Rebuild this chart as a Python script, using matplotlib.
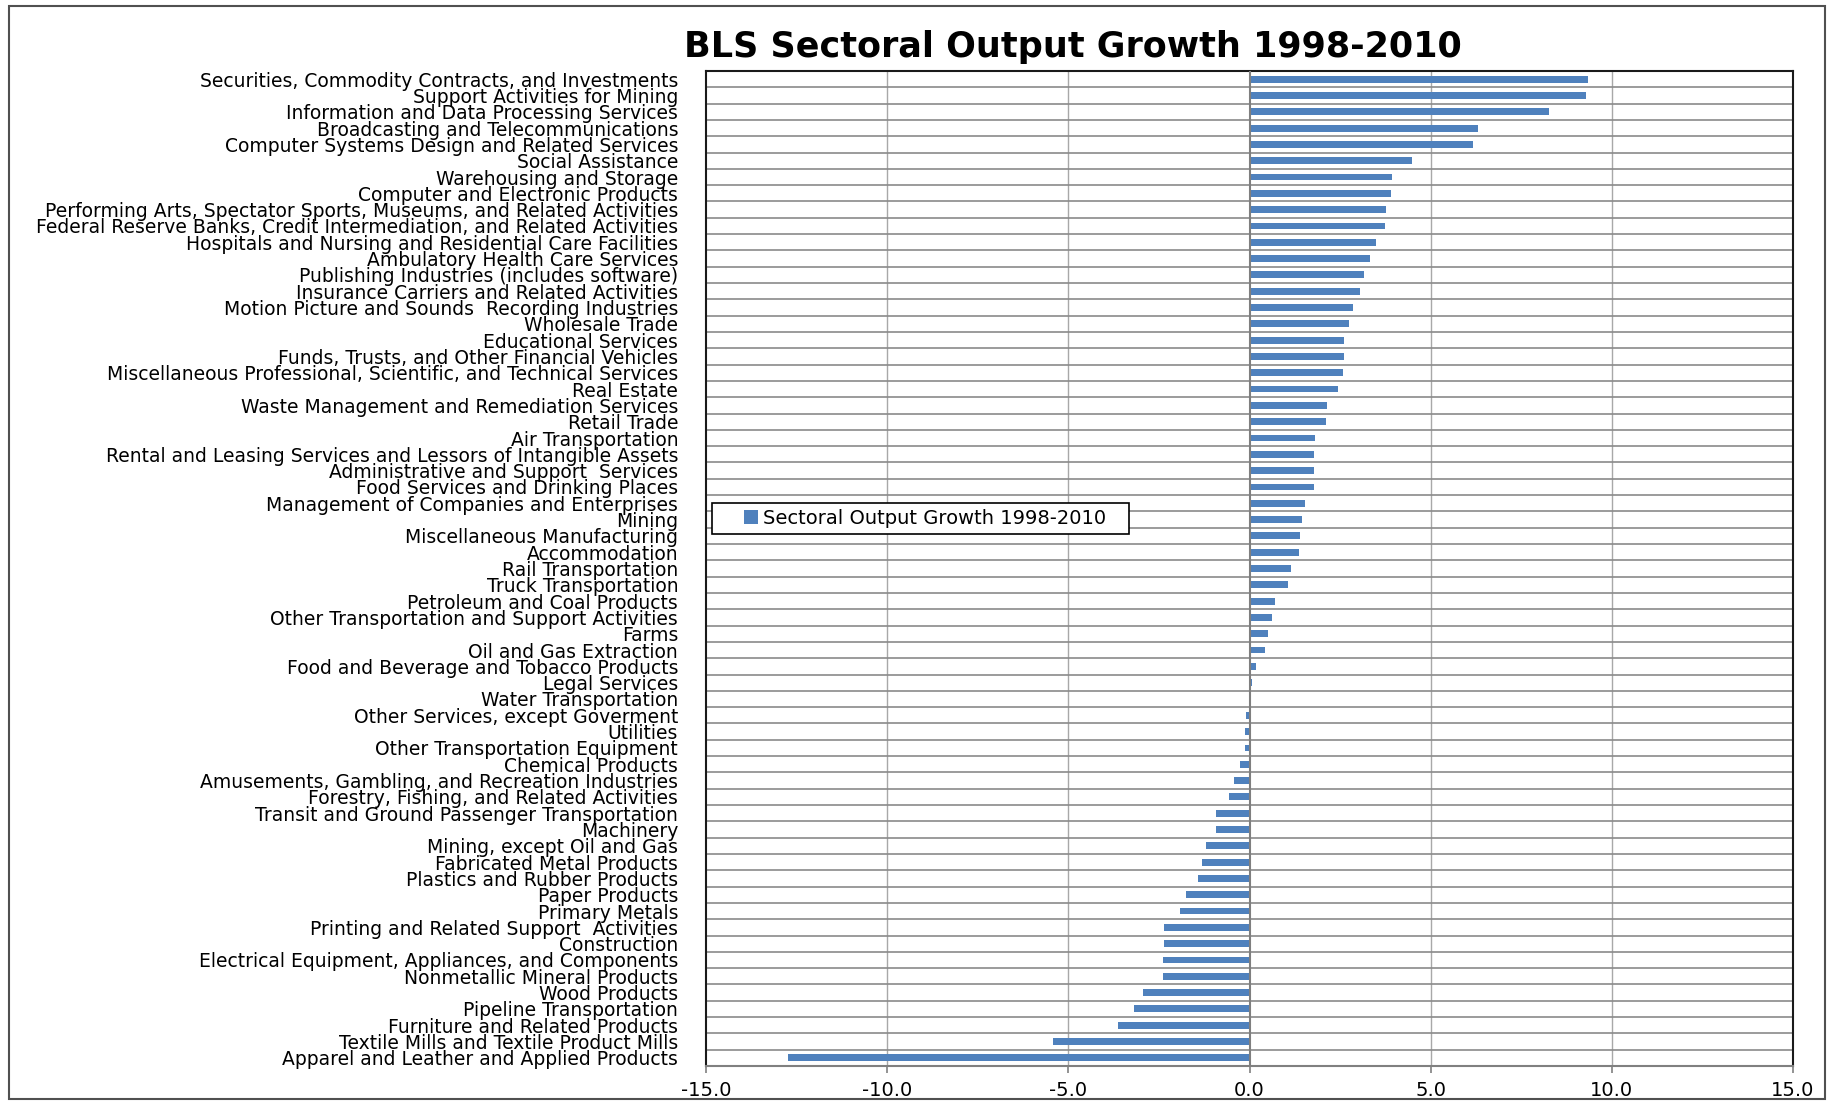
import matplotlib
matplotlib.use("Agg")
import matplotlib.pyplot as plt
from matplotlib.patches import Rectangle
from matplotlib.container import BarContainer
from matplotlib.legend_handler import HandlerPatch, update_from_first_child
import numpy as np

categories = [
    "Securities, Commodity Contracts, and Investments",
    "Support Activities for Mining",
    "Information and Data Processing Services",
    "Broadcasting and Telecommunications",
    "Computer Systems Design and Related Services",
    "Social Assistance",
    "Warehousing and Storage",
    "Computer and Electronic Products",
    "Performing Arts, Spectator Sports, Museums, and Related Activities",
    "Federal Reserve Banks, Credit Intermediation, and Related Activities",
    "Hospitals and Nursing and Residential Care Facilities",
    "Ambulatory Health Care Services",
    "Publishing Industries (includes software)",
    "Insurance Carriers and Related Activities",
    "Motion Picture and Sounds  Recording Industries",
    "Wholesale Trade",
    "Educational Services",
    "Funds, Trusts, and Other Financial Vehicles",
    "Miscellaneous Professional, Scientific, and Technical Services",
    "Real Estate",
    "Waste Management and Remediation Services",
    "Retail Trade",
    "Air Transportation",
    "Rental and Leasing Services and Lessors of Intangible Assets",
    "Administrative and Support  Services",
    "Food Services and Drinking Places",
    "Management of Companies and Enterprises",
    "Mining",
    "Miscellaneous Manufacturing",
    "Accommodation",
    "Rail Transportation",
    "Truck Transportation",
    "Petroleum and Coal Products",
    "Other Transportation and Support Activities",
    "Farms",
    "Oil and Gas Extraction",
    "Food and Beverage and Tobacco Products",
    "Legal Services",
    "Water Transportation",
    "Other Services, except Goverment",
    "Utilities",
    "Other Transportation Equipment",
    "Chemical Products",
    "Amusements, Gambling, and Recreation Industries",
    "Forestry, Fishing, and Related Activities",
    "Transit and Ground Passenger Transportation",
    "Machinery",
    "Mining, except Oil and Gas",
    "Fabricated Metal Products",
    "Plastics and Rubber Products",
    "Paper Products",
    "Primary Metals",
    "Printing and Related Support  Activities",
    "Construction",
    "Electrical Equipment, Appliances, and Components",
    "Nonmetallic Mineral Products",
    "Wood Products",
    "Pipeline Transportation",
    "Furniture and Related Products",
    "Textile Mills and Textile Product Mills",
    "Apparel and Leather and Applied Products",
]

values = [
    9.35, 9.28, 8.27, 6.31, 6.16, 4.48, 3.93, 3.90, 3.77, 3.73,
    3.48, 3.32, 3.16, 3.06, 2.87, 2.74, 2.62, 2.62, 2.58, 2.45,
    2.15, 2.12, 1.81, 1.77, 1.78, 1.78, 1.52, 1.45, 1.39, 1.36,
    1.15, 1.06, 0.70, 0.62, 0.52, 0.44, 0.19, 0.06, 0.0, -0.09,
    -0.12, -0.12, -0.26, -0.44, -0.56, -0.92, -0.92, -1.19, -1.31, -1.43,
    -1.76, -1.93, -2.37, -2.37, -2.40, -2.40, -2.93, -3.18, -3.64, -5.43,
    -12.73,
]

x_ticks = [-15.0, -10.0, -5.0, 0.0, 5.0, 10.0, 15.0]
x_tick_labels = ["-15.0", "-10.0", "-5.0", "0.0", "5.0", "10.0", "15.0"]

title = "BLS Sectoral Output Growth 1998-2010"
series_name = "Sectoral Output Growth 1998-2010"

BAR_COLOR = '#4F81BD'
plt.rcParams['font.family'] = ['DejaVu Sans']

W, H = 1834, 1104
fig = plt.figure(figsize=(W / 100, H / 100), dpi=100)

# outer chart border
fig.patches.append(Rectangle((9 / W, 1 - 1099 / H), (1825 - 9) / W, (1099 - 6) / H,
                             transform=fig.transFigure, fill=False,
                             edgecolor='#505050', linewidth=1.5))

ax = fig.add_axes([706 / W, 1 - 1066 / H, (1793 - 706) / W, (1066 - 71) / H])

y = np.arange(len(categories))
bars = ax.barh(y, values, height=0.42, color=BAR_COLOR, zorder=3, label=series_name)

ax.set_xlim(-15, 15)
ax.set_ylim(len(categories) - 0.5, -0.5)

ax.set_xticks(x_ticks)
ax.set_xticklabels(x_tick_labels, fontsize=14)
ax.set_yticks(y)
ax.set_yticklabels(categories, fontsize=13.5)

ax.set_yticks(np.arange(len(categories) + 1) - 0.5, minor=True)
ax.tick_params(axis='y', which='both', length=0, pad=20)
ax.tick_params(axis='x', which='major', length=5, width=1.2, color='#808080',
               direction='out', pad=6)

ax.grid(axis='y', which='minor', color='#8a8a8a', linewidth=1.2, zorder=1)
ax.grid(axis='y', which='major', visible=False)
for xv in [-10, -5, 5, 10]:
    ax.axvline(xv, color='#a8a8a8', linewidth=1.0, zorder=1)
ax.axvline(0, color='#7f7f7f', linewidth=1.5, zorder=4)

for side in ['left', 'top', 'right']:
    ax.spines[side].set_color('#1a1a1a')
    ax.spines[side].set_linewidth(1.5)
ax.spines['bottom'].set_color('#808080')
ax.spines['bottom'].set_linewidth(1.5)

fig.text(1073 / W, 1 - 47 / H, title, ha='center', va='center',
         fontsize=25.2, fontweight='bold')


def square_patch(legend, orig_handle, xdescent, ydescent, width, height, fontsize):
    side = 14 * 72 / 100  # points
    return Rectangle((width - xdescent - side, -ydescent + (height - side) / 2),
                     side, side)


leg = ax.legend(handles=[bars], loc='upper left',
                bbox_to_anchor=(712 / W, 1 - 536 / H, 417 / W, 33 / H),
                bbox_transform=fig.transFigure, mode='expand',
                fontsize=14, frameon=True, fancybox=False, framealpha=1,
                edgecolor='black', handlelength=2.05, handleheight=0.7,
                handletextpad=0.25, borderpad=0.3, borderaxespad=0,
                handler_map={BarContainer: HandlerPatch(patch_func=square_patch,
                                                        update_func=update_from_first_child)})
leg.get_frame().set_linewidth(1.2)
leg.set_zorder(10)

fig.savefig("out.png", dpi=100)
